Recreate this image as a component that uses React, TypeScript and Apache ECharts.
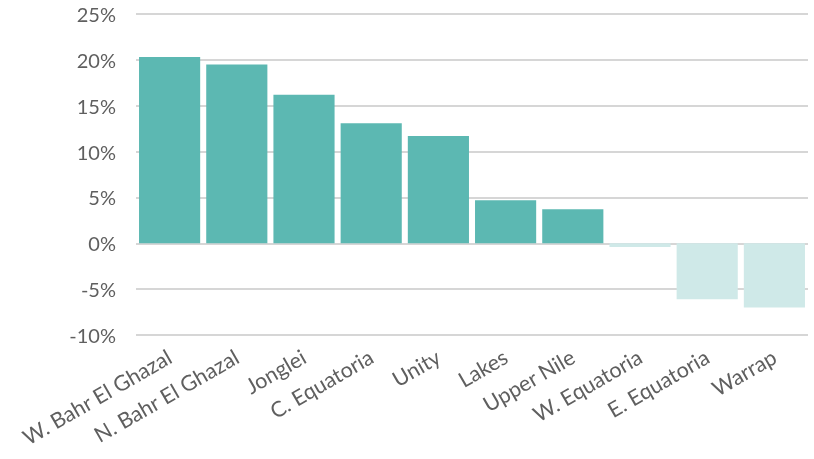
import React, { useEffect, useRef } from "react";
import * as echarts from "echarts";

const categories = [
  "W. Bahr El Ghazal",
  "N. Bahr El Ghazal",
  "Jonglei",
  "C. Equatoria",
  "Unity",
  "Lakes",
  "Upper Nile",
  "W. Equatoria",
  "E. Equatoria",
  "Warrap",
];
const values = [20.3, 19.5, 16.2, 13.1, 11.7, 4.7, 3.7, -0.4, -6.1, -7.0];
const yTicks = { min: -10, max: 25, interval: 5 };

const POS = "#5cb8b2";
const NEG = "#cfe9e8";
const FONT = "Lato, 'Open Sans', sans-serif";

export default function App() {
  const ref = useRef<HTMLDivElement>(null);
  useEffect(() => {
    if (!ref.current) return;
    const chart = echarts.init(ref.current, null, { renderer: "svg" });
    chart.setOption({
      animation: false,
      grid: { left: 136, right: 6, top: 14, bottom: 124 },
      xAxis: {
        type: "category",
        data: categories,
        axisLine: { show: false },
        axisTick: { show: false },
        axisLabel: {
          rotate: 30,
          interval: 0,
          margin: 20,
          color: "#5f5f5f",
          fontSize: 21.5,
          fontFamily: FONT,
        },
      },
      yAxis: {
        type: "value",
        min: yTicks.min,
        max: yTicks.max,
        interval: yTicks.interval,
        axisLine: { show: false },
        axisTick: { show: false },
        axisLabel: {
          formatter: "{value}%",
          color: "#5f5f5f",
          fontSize: 20,
          fontFamily: FONT,
          margin: 20,
        },
        splitLine: { lineStyle: { color: "#c9c9c9", width: 1.5 } },
      },
      series: [
        {
          type: "bar",
          data: values.map((v) => ({
            value: v,
            itemStyle: { color: v >= 0 ? POS : NEG },
          })),
          barCategoryGap: "9%",
        },
      ],
    });
    return () => chart.dispose();
  }, []);
  return (
    <div
      ref={ref}
      style={{ position: "fixed", left: 0, top: 0, width: 814, height: 459 }}
    />
  );
}
